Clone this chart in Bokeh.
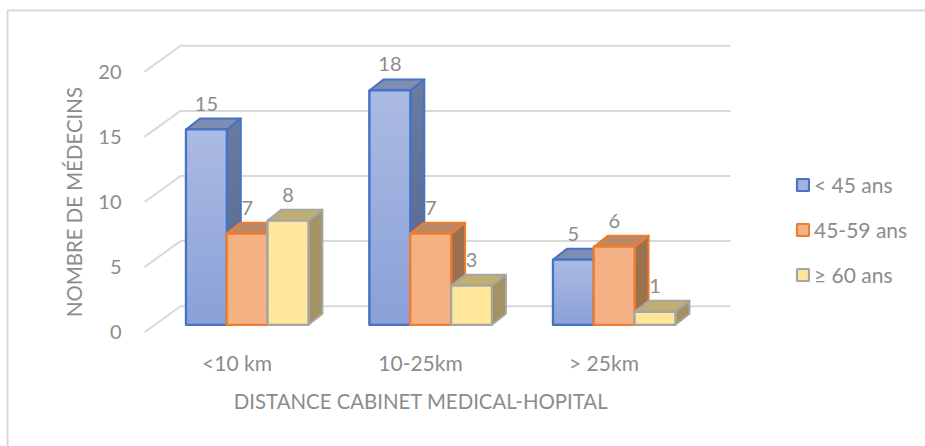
from bokeh.plotting import figure
from bokeh.models import FixedTicker, Legend, LegendItem
from bokeh.core.properties import value
from bokeh.embed import file_html
from bokeh.resources import INLINE

categories = ["<10 km", "10-25km", "> 25km"]
series_names = ["< 45 ans", "45-59 ans", "≥ 60 ans"]
under45 = [15, 18, 5]
from45to59 = [7, 7, 6]
over60 = [8, 3, 1]
y_ticks = [0, 5, 10, 15, 20]
y_title = "NOMBRE DE MÉDECINS"
x_title = "DISTANCE CABINET MEDICAL-HOPITAL"

FONT = "Lato"
TEXT = "#8c8c8c"
GRID = "#D9D9D9"
series = [under45, from45to59, over60]
edge = ["#4472C4", "#ED7D31", "#A5A5A5"]
front_top = [(171, 186, 226), (244, 177, 131), (255, 230, 153)]
front_bot = [(137, 160, 216), (244, 177, 131), (255, 230, 153)]
side_top = [(106, 122, 160), (156, 113, 80), (163, 147, 102)]
side_bot = [(84, 103, 143), (156, 113, 80), (163, 147, 102)]
top_col = ["#7F8DB3", "#BC8863", "#C0AE72"]

# pixel geometry of the pseudo-3D projection (page pixels)
PX_X, PX_Y = 183.5, 13.02      # pixels per category / per unit
X0_PX, Y0_PX = 236.5, 331.7    # pixel of category 0 / value 0
AXIS_PX = 143                  # pixel where the value axis sits
W, H = 925, 446
def dx(px): return px / PX_X
def dy(px): return px / PX_Y
def X(px): return (px - X0_PX) / PX_X
def Y(px): return (Y0_PX - px) / PX_Y

p = figure(width=W, height=H, output_backend="svg", toolbar_location=None,
           x_range=(X(0), X(W)), y_range=(Y(H), Y(0)),
           min_border_left=0, min_border_bottom=0, min_border_right=0, min_border_top=0,
           margin=(0, 0, 0, 0))
p.outline_line_color = None
p.xgrid.visible = False
p.ygrid.visible = False
p.background_fill_color = "white"

# axes: fixed inside the frame; their bounds centre the titles
xa, ya = p.xaxis[0], p.yaxis[0]
xa.fixed_location = 0
ya.fixed_location = X(AXIS_PX)
xa.bounds = (0, len(categories) - 1)
ya.bounds = (y_ticks[0], y_ticks[-1])
xa.ticker = FixedTicker(ticks=list(range(len(categories))))
xa.major_label_overrides = {i: c for i, c in enumerate(categories)}
ya.ticker = FixedTicker(ticks=y_ticks)
xa.axis_label, ya.axis_label = x_title, y_title
for a in (xa, ya):
    a.axis_line_color = None
    a.major_tick_line_color = None
    a.minor_tick_line_color = None
    a.major_label_text_color = TEXT
    a.major_label_text_font = FONT
    a.axis_label_text_color = TEXT
    a.axis_label_text_font = FONT
    a.axis_label_text_font_style = "normal"
    a.axis_label_text_font_size = "20.4px"
xa.major_label_text_font_size = "21px"
ya.major_label_text_font_size = "20px"
ya.major_label_standoff = 16
ya.axis_label_standoff = 9
xa.major_label_standoff = 12
xa.axis_label_standoff = 10

# chart border (top and left edges are what shows)
p.line([X(7), X(7), X(W)], [Y(H), Y(10), Y(10)], line_color=GRID, line_width=2)

# gridlines: floor/back wall
DEPTH_X, DEPTH_Y = 36, 26
GRID_END = 730
gx, gy = [], []
for t in y_ticks:
    gx.append([X(144), X(144 + DEPTH_X), X(GRID_END)])
    gy.append([t, t + dy(DEPTH_Y), t + dy(DEPTH_Y)])
p.multi_line(gx, gy, line_color=GRID, line_width=2)

# bars
BAR_W, BAR_DX, BAR_DY = 40.8, 14, 11
GROUP_LEFT = 185.5
BASE = dy(7.4)
N = 40
def mix(a, b, t):
    return "#%02x%02x%02x" % tuple(round(a[i] + (b[i] - a[i]) * t) for i in range(3))

label_x, label_y, label_t = [], [], []
legend_r = [None] * 3
for g in range(len(categories)):
    for s in range(3):
        v = series[s][g]
        l = g + X(GROUP_LEFT + s * BAR_W)
        r = l + dx(BAR_W)
        b, t = BASE, BASE + v
        ox, oy = dx(BAR_DX), dy(BAR_DY)
        # side face: painter's gradient, each slice runs down to the bottom
        sx, sy, sc = [], [], []
        for i in range(N):
            y0 = t + (b - t) * i / N
            sx.append([r, r + ox, r + ox, r])
            sy.append([y0, y0 + oy, b + oy, b])
            sc.append(mix(side_top[s], side_bot[s], i / N))
        p.patches(sx, sy, fill_color=sc, line_color=None)
        p.patch([r, r + ox, r + ox, r], [t, t + oy, b + oy, b], fill_alpha=0, line_color=edge[s], line_width=2, line_join="round")
        # top face
        p.patch([l, l + ox, r + ox, r], [t, t + oy, t + oy, t], fill_color=top_col[s], line_color=edge[s], line_width=2, line_join="round")
        # front face
        base = p.quad(left=[l], right=[r], top=[t], bottom=[b], fill_color=mix(front_top[s], front_bot[s], 0.3),
                      line_color=edge[s], line_width=2.2)
        if legend_r[s] is None:
            legend_r[s] = base
        qt = [t + (b - t) * i / N for i in range(N)]
        qc = [mix(front_top[s], front_bot[s], i / N) for i in range(N)]
        p.quad(left=l, right=r, top=qt, bottom=b, fill_color=qc, line_color=None)
        p.quad(left=[l], right=[r], top=[t], bottom=[b], fill_alpha=0, line_color=edge[s], line_width=2.2, line_join="round")
        label_x.append((l + r) / 2)
        label_y.append(t + dy(26))
        label_t.append(str(v))

p.text(label_x, label_y, text=label_t, text_color=TEXT, text_font=value(FONT), text_font_size="20px",
       text_align="center", text_baseline="middle")

legend = Legend(items=[LegendItem(label=n, renderers=[legend_r[i]]) for i, n in enumerate(series_names)],
                location=(795, 159), orientation="vertical",
                glyph_width=15, glyph_height=15, label_text_font=FONT, label_text_color=TEXT,
                label_text_font_size="21px", label_standoff=4, spacing=20, padding=0, margin=0,
                border_line_color=None, background_fill_alpha=0, label_height=24)
p.add_layout(legend)

open("out.html", "w").write(file_html(p, INLINE))
